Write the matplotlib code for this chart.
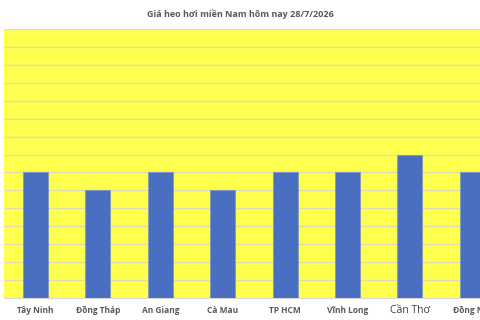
import matplotlib
matplotlib.use("Agg")
import matplotlib.pyplot as plt
import numpy as np

# gia heo hoi (nghin dong/kg)
provinces = ["Tây Ninh", "Đồng Tháp", "An Giang", "Cà Mau",
             "TP HCM", "Vĩnh Long", "Cần Thơ", "Đồng Nai"]
prices = [57, 56, 57, 56, 57, 57, 58, 57]
y_min, y_max, y_step = 50, 65, 1

plt.rcParams['font.family'] = ['Open Sans', 'DejaVu Sans']

fig = plt.figure(figsize=(4.8, 3.2), dpi=100, facecolor='white')
# plot area is cut off on the right in the reference
n = len(provinces)
slot = 62.4 / 480
ax = fig.add_axes([4.3 / 480, 22 / 320, n * slot, 269 / 320])
ax.set_facecolor('#FFFF4D')

x = np.arange(n)
ax.bar(x, prices, width=0.4, color='#4A6FC0', edgecolor='#6E8ACB',
       linewidth=0.4, zorder=3)

ax.set_xlim(-0.5, n - 0.5)
ax.set_ylim(y_min, y_max)
ax.set_yticks(np.arange(y_min, y_max + y_step, y_step))
ax.yaxis.grid(True, color='#DCDCB0', linewidth=1.0, zorder=0)
ax.tick_params(axis='y', left=False, labelleft=False)
ax.tick_params(axis='x', bottom=False, pad=7.5)
ax.set_xticks(x)
ax.set_xticklabels(provinces, fontsize=6, fontweight='bold', color='#595959')
for lbl in ax.get_xticklabels():
    lbl.set_va('baseline')
    if lbl.get_text() == "Cần Thơ":
        lbl.set_fontweight('normal')
        lbl.set_fontsize(7.5)
        lbl.set_color('#404040')

for s in ['top', 'right', 'left']:
    ax.spines[s].set_visible(False)
ax.spines['bottom'].set_color('#D9D9D9')

fig.text(0.5, 1 - 14 / 320, "Giá heo hơi miền Nam hôm nay 28/7/2026",
         ha='center', va='center', fontsize=6.5, fontweight='bold', color='#595959')

fig.savefig("out.png", dpi=100)
